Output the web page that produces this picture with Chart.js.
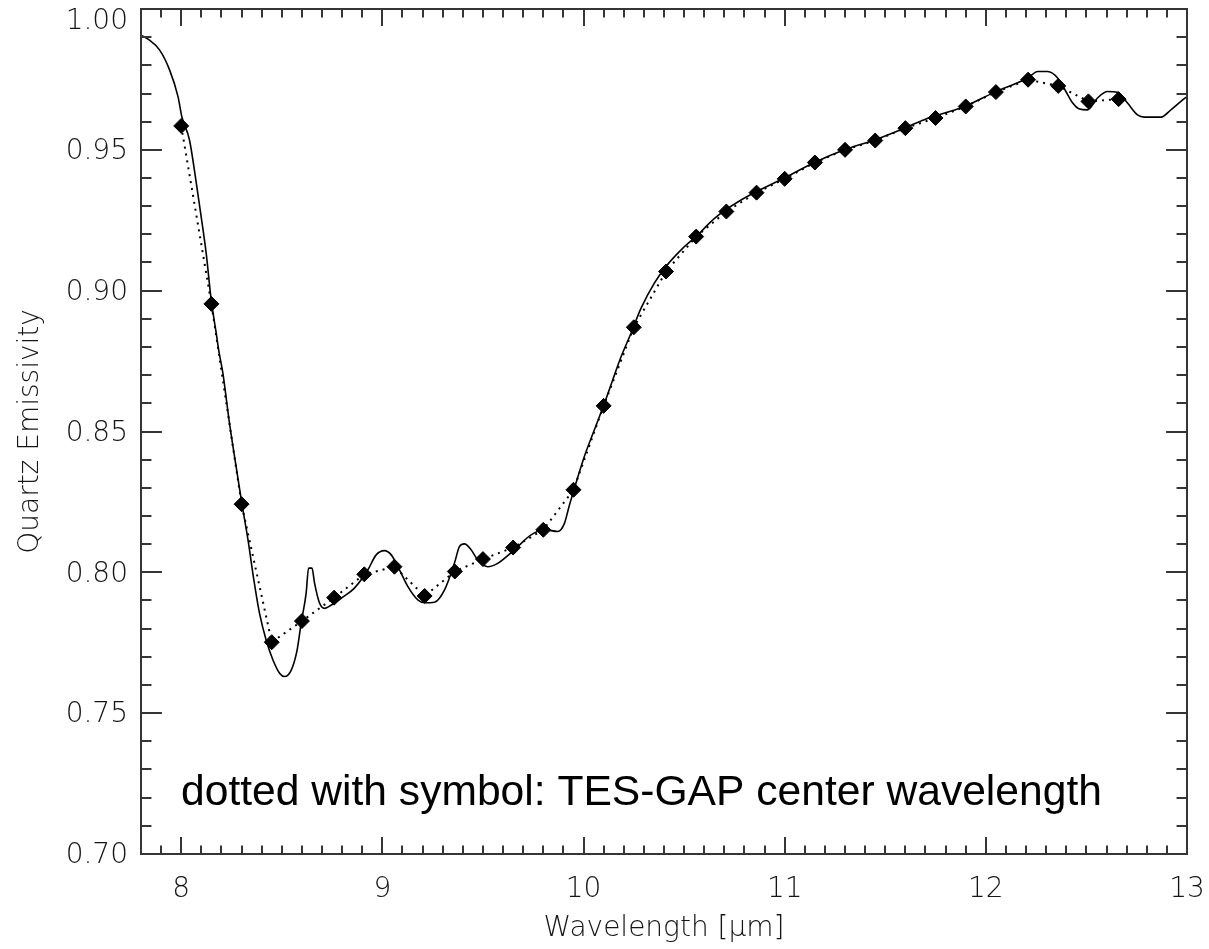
<!DOCTYPE html>
<html><head><meta charset="utf-8">
<script src="https://cdn.jsdelivr.net/npm/chart.js@4.4.0/dist/chart.umd.min.js"></script>
<style>html,body{margin:0;padding:0;background:#fff;}#wrap{width:1209px;height:949px;}</style>
</head><body><div id="wrap"><canvas id="c" width="1209" height="949"></canvas></div>
<script>
// High-resolution quartz emissivity spectrum (solid line)
const spectrumX = [7.805,7.835,7.892,7.942,7.984,8.003,8.041,8.075,8.099,8.124,8.149,8.174,8.186,8.207,8.240,8.273,8.302,8.332,8.361,8.389,8.422,8.456,8.489,8.513,8.547,8.576,8.596,8.621,8.633,8.650,8.663,8.688,8.713,8.746,8.795,8.861,8.928,8.969,9.010,9.044,9.085,9.127,9.176,9.210,9.259,9.309,9.358,9.383,9.408,9.441,9.474,9.524,9.573,9.656,9.739,9.806,9.872,9.905,9.930,9.955,10.004,10.054,10.104,10.145,10.187,10.236,10.286,10.352,10.410,10.485,10.568,10.651,10.783,10.998,11.148,11.297,11.446,11.595,11.694,11.893,12.042,12.208,12.258,12.308,12.357,12.398,12.432,12.465,12.506,12.555,12.605,12.655,12.704,12.754,12.788,12.871,12.920,12.970,13.000];
const spectrumY = [0.9905,0.9893,0.9855,0.9784,0.9689,0.9618,0.9535,0.9382,0.9263,0.9133,0.8967,0.8849,0.8790,0.8707,0.8529,0.8375,0.8242,0.8115,0.7973,0.7855,0.7760,0.7689,0.7642,0.7630,0.7653,0.7724,0.7819,0.7926,0.8015,0.8015,0.7961,0.7890,0.7872,0.7884,0.7908,0.7944,0.8009,0.8062,0.8077,0.8062,0.8009,0.7949,0.7902,0.7892,0.7894,0.7938,0.8032,0.8091,0.8101,0.8080,0.8044,0.8020,0.8032,0.8080,0.8133,0.8151,0.8145,0.8174,0.8239,0.8299,0.8411,0.8506,0.8600,0.8683,0.8766,0.8849,0.8938,0.9027,0.9086,0.9145,0.9198,0.9257,0.9322,0.9400,0.9455,0.9500,0.9535,0.9577,0.9607,0.9654,0.9704,0.9755,0.9778,0.9778,0.9755,0.9707,0.9666,0.9645,0.9642,0.9684,0.9707,0.9704,0.9666,0.9624,0.9616,0.9616,0.9642,0.9672,0.9689];
// TES-GAP center wavelengths (dotted with symbol)
const tesX = [8.00,8.15,8.30,8.45,8.60,8.76,8.91,9.06,9.21,9.36,9.50,9.65,9.80,9.95,10.10,10.25,10.41,10.56,10.71,10.86,11.00,11.15,11.30,11.45,11.60,11.75,11.90,12.05,12.21,12.36,12.51,12.66];
const tesY = [0.9585,0.8953,0.8242,0.7752,0.7827,0.7910,0.7993,0.8020,0.7916,0.8003,0.8047,0.8088,0.8151,0.8293,0.8591,0.8870,0.9068,0.9192,0.9281,0.9348,0.9397,0.9455,0.9500,0.9533,0.9577,0.9613,0.9654,0.9705,0.9749,0.9727,0.9672,0.9680];
// Axes
const xTickValues = [8,9,10,11,12,13];
const yTickValues = [0.70,0.75,0.80,0.85,0.90,0.95,1.00];
const xAxisTitle = 'Wavelength [\u03bcm]';
const yAxisTitle = 'Quartz Emissivity';
const noteText = 'dotted with symbol: TES-GAP center wavelength';

const AXIS_FONT = '"DejaVu Sans", "Liberation Sans", sans-serif';
const INK = '#151515';

const framePlugin = {
  id: 'frameTicks',
  afterDraw(chart) {
    const {ctx, chartArea: a, scales: {x, y}} = chart;
    const W = a.right - a.left, H = a.bottom - a.top;
    ctx.save();
    ctx.strokeStyle = '#353535';
    ctx.lineWidth = 2;
    ctx.strokeRect(a.left, a.top, W, H);
    ctx.beginPath();
    const xMaj = 0.02 * H, yMaj = 0.02 * W;
    for (let k = Math.ceil(x.min * 10 - 1e-6); k <= Math.floor(x.max * 10 + 1e-6); k++) {
      const px = Math.round(x.getPixelForValue(k / 10));
      const len = (k % 10 === 0) ? xMaj : xMaj / 2;
      ctx.moveTo(px, a.bottom); ctx.lineTo(px, a.bottom - len);
      ctx.moveTo(px, a.top); ctx.lineTo(px, a.top + len);
    }
    for (let k = Math.round(y.min * 100); k <= Math.round(y.max * 100); k++) {
      const py = Math.round(y.getPixelForValue(k / 100));
      const len = (k % 5 === 0) ? yMaj : yMaj / 2;
      ctx.moveTo(a.left, py); ctx.lineTo(a.left + len, py);
      ctx.moveTo(a.right, py); ctx.lineTo(a.right - len, py);
    }
    ctx.stroke();
    ctx.fillStyle = '#000';
    ctx.font = '42.6px "Liberation Sans", Arial, sans-serif';
    ctx.textBaseline = 'alphabetic';
    ctx.textAlign = 'left';
    ctx.fillText(noteText, a.left + 40, a.bottom - 49);
    ctx.restore();
  }
};

new Chart(document.getElementById('c'), {
  type: 'scatter',
  data: {
    datasets: [
      {
        data: spectrumX.map((v, i) => ({x: v, y: spectrumY[i]})),
        showLine: true,
        borderColor: '#000',
        borderWidth: 1.6,
        pointRadius: 0,
        cubicInterpolationMode: 'monotone'
      },
      {
        data: tesX.map((v, i) => ({x: v, y: tesY[i]})),
        showLine: true,
        borderColor: '#000',
        borderWidth: 2,
        borderDash: [2, 5],
        pointStyle: 'rectRot',
        pointRadius: 7.5,
        pointBackgroundColor: '#000',
        pointBorderColor: '#000',
        pointBorderWidth: 1
      }
    ]
  },
  options: {
    responsive: false,
    animation: false,
    devicePixelRatio: 1,
    layout: {padding: {left: 0, top: 9, right: 22, bottom: 0}},
    plugins: {legend: {display: false}, tooltip: {enabled: false}},
    scales: {
      x: {
        type: 'linear', min: 7.8, max: 13,
        grid: {display: false, drawTicks: false},
        border: {display: false},
        afterBuildTicks: s => { s.ticks = xTickValues.map(v => ({value: v})); },
        afterFit: s => { s.height = 95; s.paddingLeft = 0; s.paddingRight = 0; },
        ticks: {
          autoSkip: false, maxRotation: 0, padding: 19, color: INK,
          font: {family: AXIS_FONT, size: 28, weight: 200},
          callback: v => String(v)
        },
        title: {
          display: true, text: xAxisTitle, color: INK,
          font: {family: AXIS_FONT, size: 28, weight: 200},
          padding: {top: 0, bottom: 3}
        }
      },
      y: {
        type: 'linear', min: 0.70, max: 1.00,
        grid: {display: false, drawTicks: false},
        border: {display: false},
        afterBuildTicks: s => { s.ticks = yTickValues.map(v => ({value: v})); },
        afterFit: s => { s.width = 141; s.paddingTop = 0; s.paddingBottom = 0; },
        ticks: {
          autoSkip: false, padding: 13, color: INK, labelOffset: 2,
          font: {family: AXIS_FONT, size: 28, weight: 200, lineHeight: 0.75},
          callback: v => Math.abs(v - 1) < 1e-9 ? ['', v.toFixed(2)] : v.toFixed(2)
        },
        title: {
          display: true, text: yAxisTitle, color: INK,
          font: {family: AXIS_FONT, size: 28, weight: 200},
          padding: {top: 14, bottom: 0}
        }
      }
    }
  },
  plugins: [framePlugin]
});
</script></body></html>
